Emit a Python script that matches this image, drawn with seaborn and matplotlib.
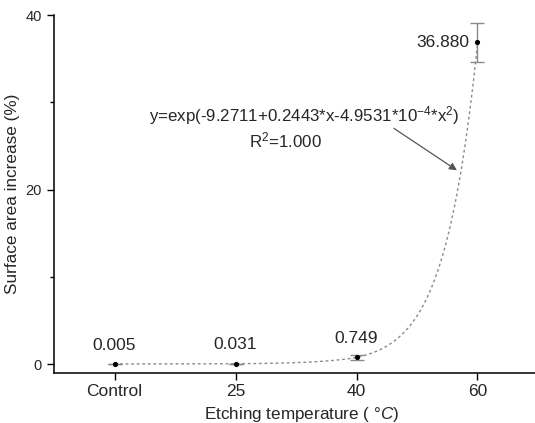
import numpy as np
import pandas as pd
import matplotlib
matplotlib.use("Agg")
import matplotlib.pyplot as plt
import seaborn as sns

# ---- data ----
categories = ["Control", "25", "40", "60"]
values = [0.005, 0.031, 0.749, 36.880]
errors = [0.02, 0.02, 0.30, 2.25]
value_labels = ["0.005", "0.031", "0.749", "36.880"]
# temperature assigned to each category for the printed fit curve
fit_temps = [17, 25, 40, 60]
fit_coef = [-9.2711, 0.2443, -4.9531e-4]
eq_text = r"y=exp(-9.2711+0.2443*x-4.9531*10$^{\mathregular{-4}}$*x$^{\mathregular{2}}$)"
r2_text = r"R$^{\mathregular{2}}$=1.000"

sns.set_theme(style="ticks")
plt.rcParams["font.family"] = ["Liberation Sans", "DejaVu Sans"]
plt.rcParams["mathtext.fontset"] = "custom"
plt.rcParams["mathtext.rm"] = "Liberation Sans"
plt.rcParams["mathtext.it"] = "Liberation Sans:italic"
plt.rcParams["mathtext.default"] = "regular"
plt.rcParams["axes.unicode_minus"] = False

fig = plt.figure(figsize=(5.35, 4.23), dpi=100)
# x range -0.5..3.6 -> axes extends past the right edge of the figure (cropped like the reference)
ax = fig.add_axes([54 / 535, 50 / 423, (121 * 4.1) / 535, 358 / 423])

pos = np.arange(len(categories))
df = pd.DataFrame({"pos": pos, "value": values, "err": errors})

# fit curve from the printed equation
p = np.linspace(0, 3, 400)
t = np.interp(p, pos, fit_temps)
curve = np.exp(fit_coef[0] + fit_coef[1] * t + fit_coef[2] * t ** 2)
cdf = pd.DataFrame({"pos": p, "fit": curve})
sns.lineplot(data=cdf, x="pos", y="fit", ax=ax, color="#8a8a8a",
             linewidth=1.0, linestyle=(0, (2, 2)), zorder=1)

ax.errorbar(df["pos"], df["value"], yerr=df["err"], fmt="none",
            ecolor="#8a8a8a", elinewidth=1.0, capsize=5, capthick=1.0, zorder=2)
sns.scatterplot(data=df, x="pos", y="value", ax=ax, color="black", s=14,
                edgecolor="black", linewidth=0, zorder=3)

for i, (v, lab) in enumerate(zip(values, value_labels)):
    if i == 3:
        ax.annotate(lab, (i, v), xytext=(-6, 0), textcoords="offset points",
                    ha="right", va="center", fontsize=12.5)
    else:
        ax.annotate(lab, (i, v), xytext=(0, 13.5), textcoords="offset points",
                    ha="center", va="center", fontsize=12.5)

ax.text(1.57, 28.5, eq_text, ha="center", va="center", fontsize=12.2)
ax.text(1.41, 25.6, r2_text, ha="center", va="center", fontsize=12.2)
ax.annotate("", xy=(2.83, 22.2), xytext=(2.31, 27.0),
            arrowprops=dict(arrowstyle="-|>", color="#555555", lw=0.9,
                            mutation_scale=11, shrinkA=0, shrinkB=0))

ax.set_xlim(-0.5, 3.6)
ax.set_ylim(-1.03, 40)
ax.set_xticks(pos)
ax.set_xticklabels(categories)
ax.set_yticks([0, 20, 40])
ax.set_yticks([10, 30], minor=True)
ax.tick_params(axis="x", direction="out", length=5, width=1, labelsize=12.5, pad=3, color="black")
ax.tick_params(axis="y", which="major", direction="out", length=5, width=1, labelsize=10.5, pad=4, color="black")
ax.tick_params(axis="y", which="minor", direction="out", length=3, width=1, color="black")
for s in ["top", "right"]:
    ax.spines[s].set_visible(False)
for s in ["left", "bottom"]:
    ax.spines[s].set_color("black")
    ax.spines[s].set_linewidth(1.1)

ax.set_xlabel(r"Etching temperature ( $\mathit{°C}$)", fontsize=12.3, labelpad=4)
ax.set_ylabel("Surface area increase (%)", fontsize=12.3, labelpad=4)

fig.savefig("out.png", dpi=100, facecolor="white")
